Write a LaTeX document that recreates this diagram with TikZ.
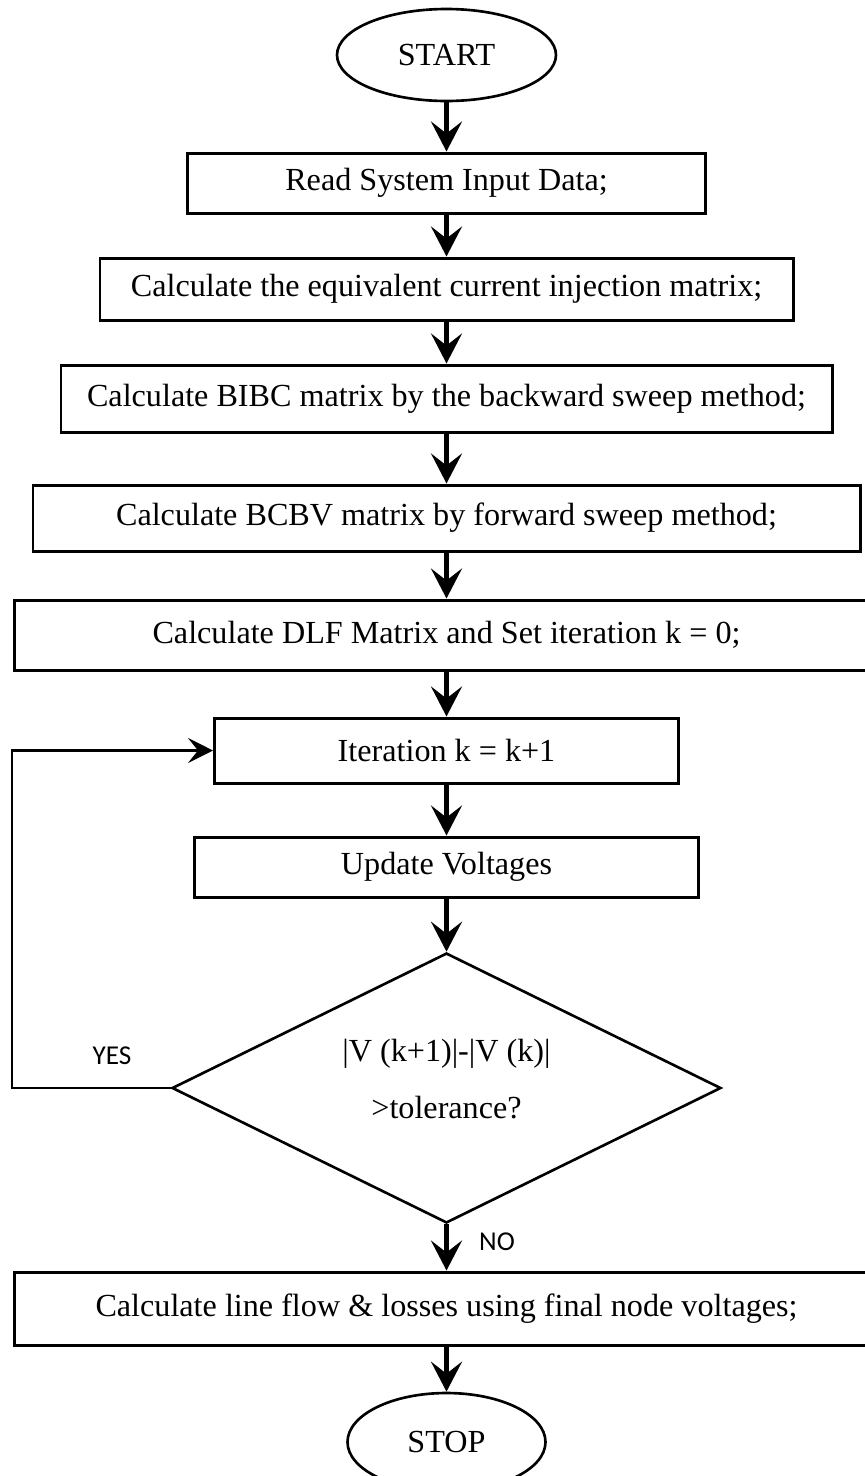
\documentclass[tikz,border=0pt]{standalone}
\usepackage{fontspec}
\setmainfont{Liberation Serif}
\newfontfamily\yesnofont{Carlito}
\usetikzlibrary{arrows.meta,shapes.geometric}

\begin{document}
\begin{tikzpicture}[font=\fontsize{18.3}{21}\selectfont,
  stepbox/.style={draw,line width=1.7pt,inner sep=2pt},
  term/.style={draw,ellipse,line width=1.5pt,inner sep=0pt},
  flow/.style={line width=2.4pt,-{Stealth[length=6mm,width=6.2mm,inset=2.4mm]}},
  back/.style={line width=1.6pt,-{Stealth[length=5mm,width=5mm,inset=2mm]}},
  yn/.style={font=\yesnofont\fontsize{15.5}{18}\selectfont}]
\useasboundingbox (0,0) rectangle (17.3,-29.52);
\node[term,minimum width=4.38cm,minimum height=1.84cm] (start) at (8.93,-1.10) {START};
\foreach \i/\y/\w/\h/\lab in {1/3.66/10.36/1.20/{Read System Input Data;},2/5.78/13.86/1.24/{Calculate the equivalent current injection matrix;},3/7.97/15.42/1.34/{Calculate BIBC matrix by the backward sweep method;},4/10.36/16.54/1.32/{Calculate BCBV matrix by forward sweep method;},5/12.70/17.28/1.40/{Calculate DLF Matrix and Set iteration k = 0;},6/15.01/9.28/1.30/{Iteration k = k+1},7/17.34/10.08/1.20/{Update Voltages},8/26.17/17.28/1.46/{Calculate line flow \& losses using final node voltages;}}{
  \node[stepbox,minimum width=\w cm,minimum height=\h cm] (p\i) at (8.93,-\y) {\lab};
}
\node[draw,diamond,line width=1.5pt,inner sep=0pt,minimum width=10.98cm,minimum height=5.4cm] (dec) at (8.93,-21.76) {};
\node[align=center] (cond) at ([yshift=0.17cm]dec.center) {|V (k+1)|-|V (k)|\\[0.4cm]>tolerance?};
\node[term,minimum width=3.96cm,minimum height=1.96cm] (stop) at (8.93,-28.84) {STOP};
\foreach \a/\b in {start/p1,p1/p2,p2/p3,p3/p4,p4/p5,p5/p6,p6/p7,p7/dec,dec/p8,p8/stop}{
  \draw[flow] (\a) -- (\b);
}
% loop back
\coordinate (loopx) at (0.24,0);
\draw[back] (dec.west) -- (dec.west -| loopx) |- (p6.west);
\node[yn] (yes) at (2.24,-21.12) {YES};
\node[yn] (no) at (9.94,-24.84) {NO};
\end{tikzpicture}
\end{document}
